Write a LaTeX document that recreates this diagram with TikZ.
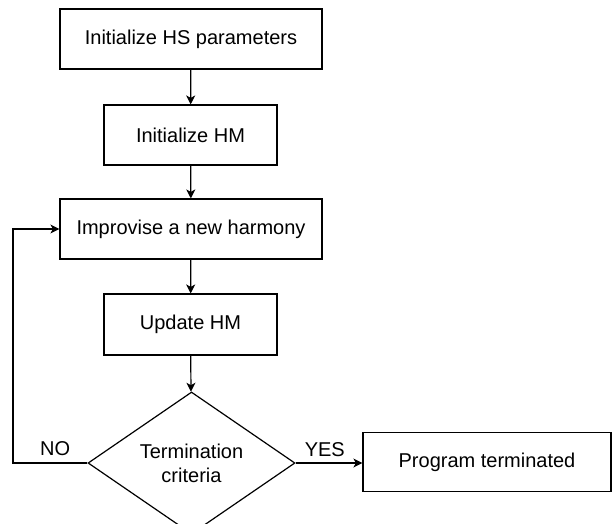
\documentclass[tikz,border=0pt]{standalone}
\usepackage{fontspec}
\setmainfont{Liberation Sans}
\usetikzlibrary{shapes.geometric,arrows.meta,positioning}

\tikzset{
    stepbox/.style={draw, line width=1.2pt, inner sep=0pt,
        font=\fontsize{20}{24}\selectfont},
    decision/.style={draw, diamond, line width=1.2pt, inner sep=0pt,
        minimum width=207pt, minimum height=132pt, align=center,
        font=\fontsize{20}{24}\selectfont},
    lbl/.style={inner sep=0pt, font=\fontsize{20}{24}\selectfont},
    arr/.style={line width=1.2pt, -{Stealth[length=9pt,width=9pt,inset=2.5pt]}}
}

\begin{document}
\begin{tikzpicture}[
    % pixel-like units, y grows downwards
    x=1pt, y=-1pt
]
    \useasboundingbox (0,0) rectangle (612,523);

    % --- Boxes of the flow ---
    \node[stepbox, minimum width=262pt, minimum height=60pt] (iniths) at (191,39) {Initialize HS parameters};
    \node[stepbox, minimum width=173pt, minimum height=60pt] (inithm) at (190.5,135) {Initialize HM};
    \node[stepbox, minimum width=262pt, minimum height=60pt] (improv) at (191,229) {Improvise a new harmony};
    \node[stepbox, minimum width=173pt, minimum height=61pt] (update) at (190.5,324.5) {Update HM};
    \node[decision] (term) at (191.5,463) {Termination\\criteria};
    \node[stepbox, minimum width=248pt, minimum height=59pt] (done) at (487,462) {Program terminated};

    % --- Labels of the two exits ---
    \node[lbl, above left=7pt and 17pt of term.west] (no) {NO};
    \node[lbl, above right=6pt and 9pt of term.east] (yes) {YES};

    % --- Connectors ---
    \draw[arr] (iniths) -- (inithm);
    \draw[arr] (inithm) -- (improv);
    \draw[arr] (improv) -- (update);
    \draw[arr] (update) -- (term);
    \draw[arr] (term.east) -- (term.east -| done.west);

    % back to improvisation
    \coordinate (back) at (13,229);
    \draw[arr] (term.west) -| (back) |- (improv.west);
\end{tikzpicture}
\end{document}
